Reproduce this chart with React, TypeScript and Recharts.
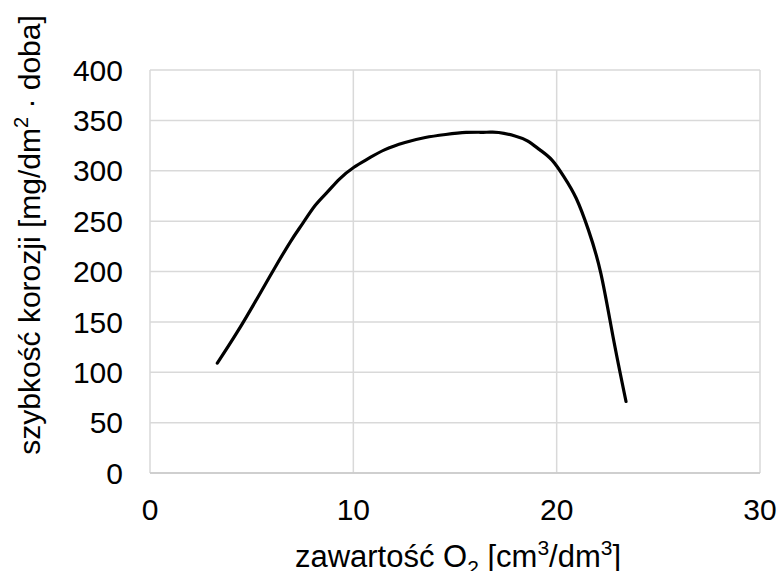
import React from "react";
import { LineChart, Line, XAxis, YAxis, CartesianGrid } from "recharts";

const oxygen = [3.31, 4.31, 5.32, 6.12, 6.92, 7.52, 8.12, 8.73, 9.33, 10.03, 10.73, 11.53, 12.54, 13.54, 14.54, 15.55, 16.55, 17.15, 17.95, 18.56, 19.16, 19.76, 20.36, 20.96, 21.56, 22.17, 22.77, 23.41];
const rate = [109, 140.5, 175, 203, 230, 248, 265.5, 279, 292, 303.5, 312, 320.7, 328, 333, 336, 338, 338.2, 338, 334.5, 329.6, 321, 310.8, 294, 272.7, 241.3, 198.4, 135.5, 71];
const xTicks = [0, 10, 20, 30];
const yTicks = [0, 50, 100, 150, 200, 250, 300, 350, 400];

const data = oxygen.map((x, i) => ({ x, y: rate[i] }));

const FONT = "'Liberation Sans', Arial, sans-serif";

const XLabel = (props: any) => {
  const vb = props.viewBox || {};
  const cx = vb.x + vb.width / 2 + 3;
  return (
    <text x={cx} y={567} textAnchor="middle" fontFamily={FONT} fontSize={31} fill="#000">
      zawartość O
      <tspan fontSize={21} dy={8}>2</tspan>
      <tspan dy={-8}> [cm</tspan>
      <tspan fontSize={21} dy={-12}>3</tspan>
      <tspan dy={12}>/dm</tspan>
      <tspan fontSize={21} dy={-12}>3</tspan>
      <tspan dy={12}>]</tspan>
    </text>
  );
};

const YLabel = () => (
  <text
    x={0}
    y={0}
    transform="translate(40,235) rotate(-90)"
    textAnchor="middle"
    fontFamily={FONT}
    fontSize={30}
    fill="#000"
  >
    szybkość korozji [mg/dm
    <tspan fontSize={20} dy={-12}>2</tspan>
    <tspan dy={12}> · doba]</tspan>
  </text>
);

export default function App() {
  return (
    <div style={{ position: "absolute", left: 0, top: 0, width: 780, height: 571, background: "#fff" }}>
      <LineChart width={780} height={571} data={data} margin={{ top: 70, right: 20, left: 0, bottom: 0 }}>
        <CartesianGrid stroke="#d9d9d9" strokeWidth={1.5} />
        <XAxis
          dataKey="x"
          type="number"
          domain={[0, 30]}
          ticks={xTicks}
          height={98}
          tickSize={0}
          tickMargin={26}
          axisLine={{ stroke: "#c8c8c8", strokeWidth: 1.5 }}
          tickLine={false}
          tick={{ fontFamily: FONT, fontSize: 30, fill: "#000" }}
          label={<XLabel />}
        />
        <YAxis
          type="number"
          domain={[0, 400]}
          ticks={yTicks}
          width={150}
          tickSize={0}
          tickMargin={27}
          axisLine={false}
          tickLine={false}
          tick={{ fontFamily: FONT, fontSize: 30, fill: "#000" }}
          label={<YLabel />}
        />
        <Line
          dataKey="y"
          type="natural"
          stroke="#000"
          strokeWidth={3.2}
          dot={false}
          strokeLinecap="round"
          isAnimationActive={false}
        />
      </LineChart>
    </div>
  );
}
